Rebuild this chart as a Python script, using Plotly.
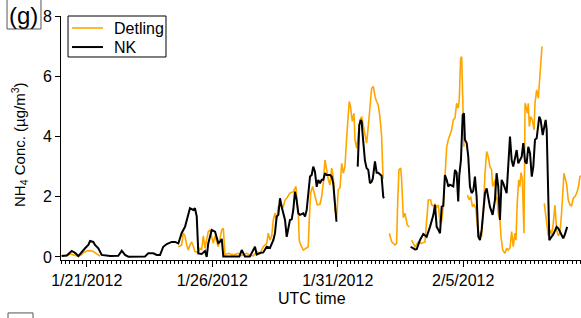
import pandas as pd
import plotly.graph_objects as go

START = pd.Timestamp("2012-01-20 00:00")

# Hours since 2012-01-20 00:00 UTC; None marks a gap in the record
detling_hours = [0, 3, 6, 8, 12, 16, 19.2, 20.7, 24, 27.2, 30.3, 33.6, 36.7, None,
                 111.6, 114.8, 116.3, 117.9, 119.6, 121.1, 122.7, 124.4, 126.0, 127.5, 130.7, 132.3, 133.9, 135.5,
                 137.1, 138.7, 140.2, 141.9, 143.5, 145.0, 146.7, 148.3, 149.8, 151.4, 153.1, 154.6, 155.2, 156.2,
                 159.4, 162.6, 165.8, 169.0, 172.2, 175.3, 177.0, 180.1, 183.3, 186.5, 189.7, 192.8, 196.1, 197.6,
                 199.2, 200.9, 202.4, 204.0, 205.6, 207.2, 210.4, 211.9, 213.6, 215.2, 218.3, 221.5, 224.1, 225.3,
                 226.3, 227.2, 228.6, 231.1, 234.3, 235.8, 236.8, 238.1, 240.0, 242.2, 244.4, 247.0, 248.6, 250.2,
                 251.8, 253.4, 255.0, 256.6, 258.2, 259.7, 261.4, 263.0, 264.5, 266.2, 267.8, 269.3, 270.9, 272.6,
                 275.0, 276.2, 277.9, 279.5, 280.5, 282.1, 283.6, 285.3, 286.9, 288.4, 290.0, 291.6, 293.2, 294.8,
                 296.4, 298.0, 299.6, 301.2, 302.7, 304.3, 306.0, 306.9, 307.5, None,
                 313.3, 315.6, 318.7, 320.3, 321.3, 322.5, 324.2, 325.1, 326.7, 328.3, 330.5, 332.4, None,
                 334.7, 337.9, 341.0, 344.2, 347.4, 349.0, 350.6, 352.9, 353.8, 355.4, 357.0, 358.6, 360.2, 361.8,
                 363.4, 364.9, 366.5, 368.2, 369.7, 371.3, 372.9, 374.5, 376.1, 377.7, 379.2, 380.2, 381.5, 382.5,
                 383.5, 384.7, None,
                 388.0, 389.6, 391.2, 392.8, 394.4, 396.0, 397.6, 400.0, 401.6, 403.1, 404.8, 406.4, 407.9, 409.5,
                 411.1, 412.1, 413.5, 414.3, 415.3, 416.2, 417.5, 419.1, 420.1, 421.7, 423.9, 425.5, 427.0, 428.7,
                 430.3, 431.8, 433.4, 434.4, 435.6, 437.0, 438.2, 439.2, 440.5, 441.4, 442.1, 443.1, 444.1, 445.3,
                 446.2, 447.2, 448.5, 450.0, 451.7, 452.6, 454.2, 455.8, 456.7, 458.0, 459.3, None,
                 461.5, 463.8, 465.3, 466.9, 468.5, 470.1, 471.7, 473.3, 474.9, 476.5, 478.1, 480.3, 481.5, 482.9,
                 484.4, 486.0, 487.6, 489.2, 490.8, 492.4, 494.0, 495.6, 496.6]
detling_conc = [0.05, 0.06, 0.05, 0.10, 0.05, 0.02, 0.08, 0.14, 0.20, 0.21, 0.18, 0.10, 0.03, None,
                0.34, 0.40, 0.79, 0.70, 0.40, 0.23, 0.40, 0.50, 0.35, 0.18, 0.14, 0.29, 0.25, 0.70,
                0.29, 0.56, 0.84, 0.90, 0.62, 0.45, 0.70, 0.50, 0.34, 0.60, 0.90, 0.95, 0.40, 0.07,
                0.12, 0.08, 0.08, 0.12, 0.05, 0.10, 0.12, 0.06, 0.04, 0.18, 0.12, 0.34, 0.45, 0.79,
                0.56, 0.70, 1.23, 1.45, 1.23, 1.67, 1.70, 1.67, 1.89, 1.95, 2.12, 2.17, 2.34, 1.78,
                1.45, 0.56, 0.40, 0.23, 0.29, 0.34, 1.23, 2.12, 2.34, 2.00, 1.73, 1.75, 2.00, 2.45,
                3.22, 2.90, 2.56, 2.39, 2.95, 2.67, 1.56, 1.29, 2.23, 2.30, 3.11, 2.78, 3.00, 4.00,
                5.16, 5.00, 4.50, 4.77, 3.89, 3.61, 4.11, 4.55, 4.66, 4.33, 4.05, 3.78, 4.33, 4.99,
                5.60, 5.66, 5.33, 5.16, 5.05, 4.66, 4.00, 3.00, 2.60, None,
                0.79, 0.50, 0.40, 0.45, 1.78, 2.89, 2.95, 2.56, 1.30, 1.45, 1.06, 1.00, None,
                0.56, 0.34, 0.50, 0.45, 0.50, 1.34, 1.89, 1.89, 1.73, 1.70, 1.75, 1.65, 1.73, 1.12,
                1.20, 1.67, 2.56, 3.66, 3.89, 4.05, 4.22, 4.55, 4.61, 5.10, 4.94, 5.22, 6.60, 6.65,
                4.77, 3.66, None,
                2.06, 1.90, 2.00, 1.67, 1.75, 1.60, 1.00, 0.67, 0.70, 1.45, 2.78, 3.50, 3.33, 3.00,
                2.90, 2.34, 2.45, 2.56, 1.89, 2.00, 1.45, 1.23, 0.67, 0.23, 0.12, 0.29, 0.23, 0.30,
                0.84, 0.34, 0.79, 0.56, 1.78, 2.56, 2.34, 2.80, 2.60, 1.50, 0.79, 5.10, 5.00, 4.77,
                5.10, 4.33, 4.66, 4.55, 4.22, 5.10, 5.55, 5.27, 5.77, 6.65, 6.99, None,
                1.78, 1.00, 0.70, 0.90, 0.75, 1.12, 1.72, 0.90, 0.70, 0.80, 1.50, 2.78, 2.60, 2.40,
                1.89, 1.73, 1.70, 1.95, 2.00, 2.12, 2.30, 2.67, 2.70]

nk_hours = [0, 4.9, 9.7, 12.8, 16.0, 19.2, 22.4, 25.5, 27.2, 30.3, 31.9, 35.1, 38.3, 46.3, 54.2, 57.5,
            60.6, 63.8, 71.8, 79.7, 82.9, 87.7, 90.9, 94.1, 97.2, 100.5, 105.3, 108.4, 111.6, 114.8, 118.0,
            121.1, 122.7, 125.9, 127.5, 129.2, 130.7, 133.9, 137.1, 138.7, 140.2, 143.5, 146.7, 149.8, 151.4,
            153.1, 154.6, 160.0, 165.0, 170.0, 172.2, 175.3, 180.0, 184.9, 186.5, 189.7, 192.8, 196.1, 199.2,
            202.4, 204.0, 205.6, 207.2, 208.8, 210.4, 211.9, 213.6, 215.2, 216.7, 218.3, 220.0, 221.5, 223.1,
            224.7, 226.3, 227.9, 231.1, 232.7, 234.3, 235.8, 237.5, 239.1, 240.6, 242.2, 243.9, 245.4, 247.0,
            248.7, 250.2, 251.8, 253.4, 256.6, 258.2, 259.7, 261.4, 262.8, None,
            283.1, 284.6, 286.0, 286.9, 287.5, 288.8, 290.0, 291.6, 293.2, 294.8, 296.4, 297.5, 299.6, 301.2,
            302.7, 304.3, 305.9, 307.5, 308.2, None,
            333.7, 335.5, 337.9, 339.5, 342.6, 345.8, 349.0, 352.2, 355.4, 357.0, 358.6, 360.2, 361.8, 363.4,
            364.9, 366.5, 368.2, 369.7, 371.3, 374.5, 376.1, 377.7, 379.2, 380.2, 381.8, 383.5, 384.7, 385.6,
            387.3, 388.8, 390.4, 392.0, 393.6, 395.2, 396.8, 398.4, 400.0, 401.6, 403.1, 404.8, 406.4, 407.9,
            409.5, 412.1, 414.3, 415.9, 417.5, 419.1, 420.7, 422.2, 423.9, 425.5, 428.7, 430.3, 431.8, 433.4,
            435.1, 436.6, 438.2, 439.9, 441.4, 443.1, 444.6, 446.2, 447.9, 449.5, 451.0, 452.6, 454.2, 455.8,
            456.7, 458.0, 460.0, 461.2, 462.8, 463.8, 465.3, 466.3, 468.5, 470.1, 473.3, 474.9, 476.5, 479.6,
            481.2, 483.4]
nk_conc = [0.03, 0.05, 0.20, 0.14, 0.03, 0.18, 0.29, 0.40, 0.53, 0.50, 0.40, 0.29, 0.07, 0.03, 0.04, 0.21,
           0.07, 0.01, 0.01, 0.02, 0.12, 0.12, 0.07, 0.07, 0.34, 0.43, 0.50, 0.50, 0.45, 0.80, 1.00,
           1.45, 1.62, 1.56, 1.62, 1.34, 0.12, 0.10, 0.20, 0.00, 0.45, 0.90, 0.84, 0.46, 0.50,
           0.60, 0.02, 0.02, 0.01, 0.02, 0.23, 0.02, 0.02, 0.34, 0.08, 0.13, 0.15, 0.34, 0.30,
           0.56, 0.79, 1.34, 1.40, 1.95, 1.67, 1.45, 1.23, 0.67, 1.00, 1.23, 1.25, 1.56, 2.17,
           1.89, 1.45, 1.40, 1.45, 1.34, 1.56, 2.10, 2.67, 2.72, 3.00, 2.83, 2.33, 2.56, 2.45,
           2.56, 2.56, 2.78, 2.72, 2.72, 2.67, 2.45, 1.56, 1.17, None,
           3.00, 4.38, 4.55, 4.50, 4.20, 3.60, 3.20, 2.95, 2.89, 2.45, 2.50, 2.60, 3.17, 2.80,
           2.80, 2.75, 2.70, 2.00, 1.95, None,
           0.34, 0.30, 0.25, 0.26, 0.56, 0.76, 0.67, 1.00, 1.39, 1.73, 1.00, 0.90, 0.79, 1.67,
           1.70, 2.72, 2.56, 2.34, 2.40, 2.34, 2.89, 2.80, 1.84, 2.70, 3.22, 4.72, 4.77, 3.89,
           3.78, 3.33, 2.34, 2.12, 2.20, 2.67, 2.00, 0.67, 0.56, 0.90, 1.45, 2.12, 2.28, 2.00,
           1.67, 1.40, 1.89, 2.78, 2.33, 1.23, 2.56, 2.45, 2.30, 2.12, 4.00, 3.22, 3.00, 3.22,
           3.55, 3.11, 3.20, 3.33, 3.78, 3.17, 3.10, 3.66, 3.44, 2.67, 3.00, 3.89, 3.94, 4.33,
           4.66, 4.55, 4.05, 4.27, 4.55, 4.22, 1.23, 0.56, 0.67, 0.75, 1.00, 0.95, 0.84, 0.62,
           0.75, 1.00]

series_names = ["Detling", "NK"]
series_colors = ["#FFA500", "#000000"]
series_widths = [1.6, 2.0]

tick_dates = ["2012-01-21", "2012-01-26", "2012-01-31", "2012-02-05"]
tick_labels = ["1/21/2012", "1/26/2012", "1/31/2012", "2/5/2012"]
y_ticks = [0, 2, 4, 6, 8]


def to_time(hours):
    return [None if h is None else START + pd.Timedelta(hours=h) for h in hours]


FONT = "Liberation Sans, Arial, sans-serif"

fig = go.Figure()
for name, hrs, vals, col, w in zip(series_names, [detling_hours, nk_hours], [detling_conc, nk_conc],
                                   series_colors, series_widths):
    fig.add_trace(go.Scatter(x=to_time(hrs), y=vals, mode="lines", name=name,
                             line=dict(color=col, width=w), connectgaps=False, showlegend=False))

# Legend drawn as a boxed key (paper coordinates) to match the compact original key
legend_shapes = [dict(type="rect", xref="paper", yref="paper", x0=0.0135, x1=0.2019, y0=0.832, y1=1.0,
                      line=dict(color="black", width=1), fillcolor="white", layer="above")]
legend_annots = []
for i, (name, col, w) in enumerate(zip(series_names, series_colors, series_widths)):
    yy = 0.9508 - i * 0.078
    legend_shapes.append(dict(type="line", xref="paper", yref="paper", x0=0.0212, x1=0.0808, y0=yy, y1=yy,
                              line=dict(color=col, width=w), layer="above"))
    legend_annots.append(dict(text=name, xref="paper", yref="paper", x=0.0981, y=yy, xanchor="left",
                              yanchor="middle", showarrow=False, font=dict(size=16)))

fig.update_layout(
    width=581, height=318,
    margin=dict(l=61, r=0, t=16, b=58),
    paper_bgcolor="white", plot_bgcolor="white",
    font=dict(family=FONT, size=16, color="black"),
    showlegend=False,
    xaxis=dict(
        type="date",
        range=[START - pd.Timedelta(hours=0.6), START + pd.Timedelta(hours=496.6)],
        tickmode="array", tickvals=tick_dates, ticktext=tick_labels,
        ticks="outside", ticklen=6, tickwidth=1, tickcolor="black",
        minor=dict(tickmode="linear", tick0="2012-01-20", dtick=4 * 3600 * 1000,
                   ticks="outside", ticklen=3, tickwidth=1, tickcolor="black", showgrid=False),
        showline=True, linecolor="black", linewidth=1,
        showgrid=False, zeroline=False,
        tickfont=dict(size=16),
    ),
    yaxis=dict(
        range=[-0.1, 8.0],
        tickmode="array", tickvals=y_ticks,
        ticks="outside", ticklen=5, tickwidth=1, tickcolor="black",
        showline=True, linecolor="black", linewidth=1,
        showgrid=False, zeroline=False,
        tickfont=dict(size=16),
    ),
    annotations=[
        dict(text="NH<sub>4</sub> Conc. (µg/m<sup>3</sup>)", textangle=-90,
             xref="paper", yref="paper", x=-0.081, y=0.475, showarrow=False,
             font=dict(size=15), xanchor="center", yanchor="middle"),
        dict(text="UTC time", xref="paper", yref="paper", x=0.483, y=-0.156,
             showarrow=False, font=dict(size=16), xanchor="center", yanchor="middle"),
        dict(text="(g)", xref="paper", yref="paper", x=-0.0712, y=1.003,
             showarrow=False, font=dict(size=24), xanchor="center", yanchor="middle"),
    ] + legend_annots,
    shapes=[
        dict(type="rect", xref="paper", yref="paper", x0=-0.1038, x1=-0.0385, y0=0.9467, y1=1.08,
             line=dict(color="#555555", width=1)),
        dict(type="rect", xref="paper", yref="paper", x0=-0.1019, x1=-0.0538, y0=-0.28, y1=-0.217,
             line=dict(color="#555555", width=1)),
    ] + legend_shapes,
)

fig.write_html("out.html", config={"displayModeBar": False},
               post_script="document.body.style.margin='0px';")
